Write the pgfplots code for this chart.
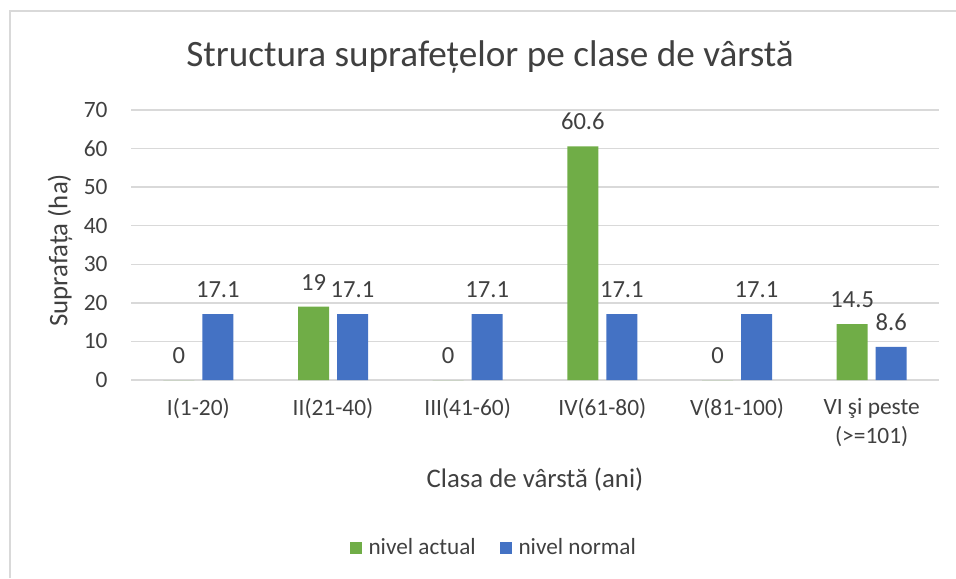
\documentclass[border=0pt]{standalone}
\usepackage{pgfplots}
\pgfplotsset{compat=1.18}
\usepackage{fontspec}
\setmainfont{Carlito}
\definecolor{cgreen}{RGB}{112,173,71}
\definecolor{cblue}{RGB}{68,114,196}
\definecolor{cgrid}{RGB}{217,217,217}
\definecolor{ctext}{RGB}{64,64,64}
\begin{document}
\begin{tikzpicture}
\path[use as bounding box] (0,0) rectangle (478pt,289pt);
\draw[cgrid, line width=0.8pt] (5pt,0) -- (5pt,283.5pt) -- (478pt,283.5pt);
\node[text=ctext, font=\fontsize{18.6}{22}\selectfont] at (245pt,260.5pt) {Structura suprafețelor pe clase de vârstă};
\begin{axis}[
  at={(65.5pt,99pt)}, anchor=south west,
  scale only axis, width=404pt, height=135pt,
  xmin=-0.5, xmax=5.5, ymin=0, ymax=70,
  ytick={0,10,...,70},
  xtick={0,1,2,3,4,5},
  xticklabels={I(1-20), II(21-40), III(41-60), IV(61-80), V(81-100), {VI şi peste\\(>=101)}},
  axis line style={draw=none},
  major tick length=0pt,
  ymajorgrids, grid style={cgrid, line width=0.75pt},
  /pgf/number format/assume math mode=true,
  tick label style={text=ctext, font=\fontsize{11.7}{14.5}\selectfont},
  xticklabel style={anchor=north, inner sep=0pt, yshift=-9pt, align=center},
  yticklabel style={anchor=east, inner sep=0pt, xshift=-11.5pt},
  xlabel={Clasa de vârstă (ani)},
  ylabel={Suprafața (ha)},
  label style={text=ctext, font=\fontsize{13.4}{16}\selectfont},
  xlabel style={at={(axis description cs:0.5,-0.370)}, anchor=center},
  ylabel style={at={(axis description cs:-0.0879,0.48)}, anchor=center},
  ybar, bar width=15.5pt,
  nodes near coords,
  every node near coord/.append style={text=ctext, font=\fontsize{12.3}{14}\selectfont, anchor=south, inner sep=0pt, yshift=8pt},
  legend columns=2,
  legend style={at={(axis description cs:0.452,-0.622)}, anchor=center, draw=none, fill=none,
    font=\fontsize{11.6}{14}\selectfont, text=ctext,
    /tikz/every even column/.append style={column sep=9pt},
    nodes={inner sep=3.2pt}},
  legend image code/.code={\fill[#1] (0pt,-3pt) rectangle (6pt,3pt);},
]
\addplot[fill=cgreen, draw=none, bar shift=-9.75pt] coordinates {(0,0) (1,19) (2,0) (3,60.6) (4,0) (5,14.5)};
\addlegendentry{nivel actual}
\addplot[fill=cblue, draw=none, bar shift=9.75pt] coordinates {(0,17.1) (1,17.1) (2,17.1) (3,17.1) (4,17.1) (5,8.6)};
\addlegendentry{nivel normal}
\end{axis}
\end{tikzpicture}
\end{document}
